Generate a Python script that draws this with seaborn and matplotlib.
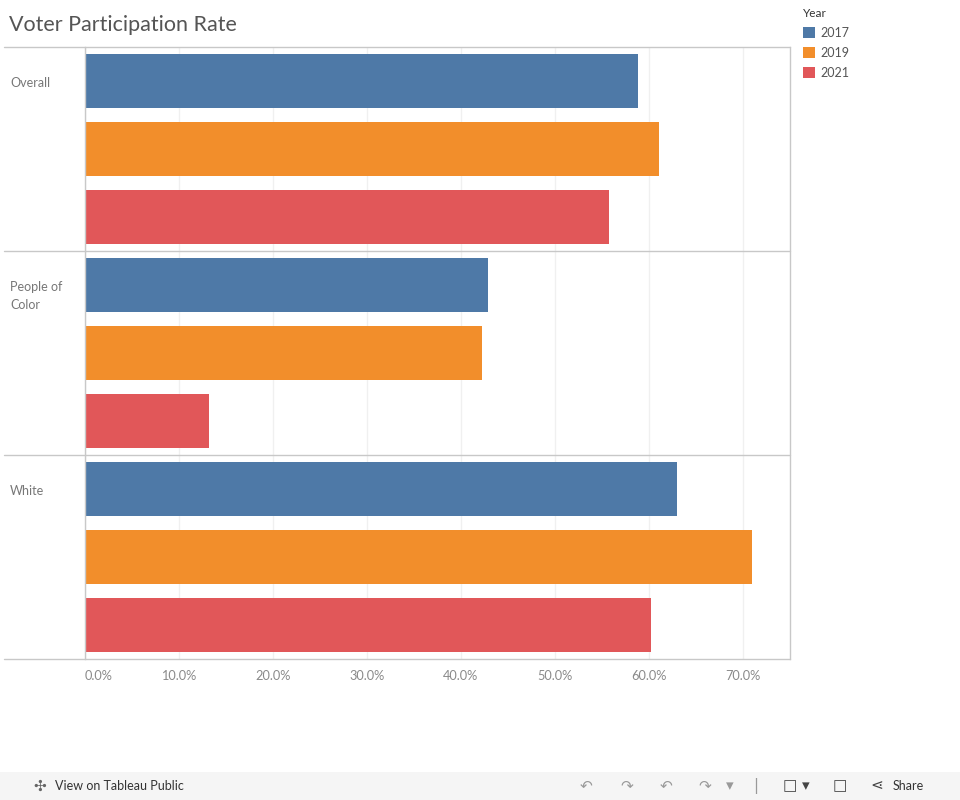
import matplotlib
matplotlib.use("Agg")
import matplotlib.pyplot as plt
import matplotlib.transforms as mtransforms
from matplotlib.patches import Rectangle
import pandas as pd
import seaborn as sns

# values
groups = ["Overall", "People of Color", "White"]
row_labels = ["Overall", "People of\nColor", "White"]
years = ["2017", "2019", "2021"]
rate_2017 = [0.588, 0.429, 0.630]
rate_2019 = [0.611, 0.422, 0.710]
rate_2021 = [0.557, 0.132, 0.602]
tick_vals = [0.0, 0.1, 0.2, 0.3, 0.4, 0.5, 0.6, 0.7]
tick_labels = ["0.0%", "10.0%", "20.0%", "30.0%", "40.0%", "50.0%", "60.0%", "70.0%"]
colors = ["#4E79A7", "#F28E2B", "#E15759"]

df = pd.DataFrame({
    "group": groups * 3,
    "year": [y for y in years for _ in groups],
    "rate": rate_2017 + rate_2019 + rate_2021,
})

sns.set_style("white")
plt.rcParams["font.family"] = ["Lato", "DejaVu Sans"]

W, H = 960, 800
fig = plt.figure(figsize=(9.6, 8), dpi=100)
left, right, top, bottom = 85, 790, 47, 659
ax = fig.add_axes([left / W, 1 - bottom / H, (right - left) / W, (bottom - top) / H])

sns.barplot(data=df, x="rate", y="group", hue="year", hue_order=years,
            order=groups, palette=colors, orient="h", width=1.0, gap=0.2,
            saturation=1, linewidth=0, ax=ax)

ax.set_xlim(0, 0.75)
ax.set_ylim(2.5, -0.5)
ax.set_xlabel("")
ax.set_ylabel("")
ax.set_yticks([])

# grid + ticks
ax.set_xticks(tick_vals)
ax.set_xticklabels(tick_labels, fontsize=9.2, color="#8a8a8a")
ax.get_xticklabels()[0].set_horizontalalignment("left")
ax.tick_params(axis="x", length=5, color="#e6e6e6", pad=3)
ax.grid(axis="x", color="#f0f0f0", linewidth=1)
ax.set_axisbelow(True)

line_c = "#c8c8c8"
for s in ["top", "bottom"]:
    ax.spines[s].set_visible(False)
ax.spines["right"].set_color(line_c)
ax.spines["left"].set_color(line_c)
ax.spines["right"].set_linewidth(1)
ax.spines["left"].set_linewidth(1)

# pane borders spanning into the header column
xmin_ext = -(left - 4) / (right - left)
for yb in [-0.5, 0.5, 1.5, 2.5]:
    ax.axhline(yb, xmin=xmin_ext, xmax=1, color=line_c, linewidth=1, clip_on=False)

# row headers
trans = mtransforms.blended_transform_factory(fig.transFigure, ax.transData)
for i, lab in enumerate(row_labels):
    ax.text(10 / W, i - 0.5 + 0.145, lab, transform=trans, ha="left", va="top",
            fontsize=9, color="#777777", linespacing=1.62)

# title
fig.text(9 / W, 1 - 25 / H, "Voter Participation Rate", fontsize=15.5,
         color="#555555", va="center", ha="left")

# legend
handles, labels = ax.get_legend_handles_labels()
ax.legend(handles, labels, title="Year", loc="upper left",
          bbox_to_anchor=(794 / W, 1 + 1 / H), bbox_transform=fig.transFigure,
          frameon=False, fontsize=9, title_fontsize=8.5, alignment="left",
          handlelength=1.0, handleheight=1.0, handletextpad=0.45,
          labelspacing=0.65, borderpad=0.2)
leg = ax.get_legend()
leg.get_title().set_color("#333333")
for t in leg.get_texts():
    t.set_color("#555555")

# Tableau footer bar
fig.patches.append(Rectangle((0, 0), 1, 28 / H, transform=fig.transFigure,
                             facecolor="#f5f5f5", edgecolor="none", zorder=0))
fy = 14 / H
fig.text(33 / W, fy, "\u2723", fontsize=11, color="#666666", va="center",
         family="DejaVu Sans")
fig.text(55 / W, fy, "View on Tableau Public", fontsize=9, color="#333333", va="center")
for xx, g in [(580, "\u21b6"), (620, "\u21b7"), (660, "\u21b6"), (698, "\u21b7"),
              (726, "\u25be"), (753, "|"), (783, "\u25a1"), (802, "\u25be"),
              (833, "\u25a1"), (870, "\u22d6")]:
    fig.text(xx / W, fy, g, fontsize=11, color="#999999" if xx < 760 else "#444444",
             va="center", family="DejaVu Sans")
fig.text(893 / W, fy, "Share", fontsize=9, color="#333333", va="center")

fig.savefig("out.png", dpi=100, facecolor="white")
